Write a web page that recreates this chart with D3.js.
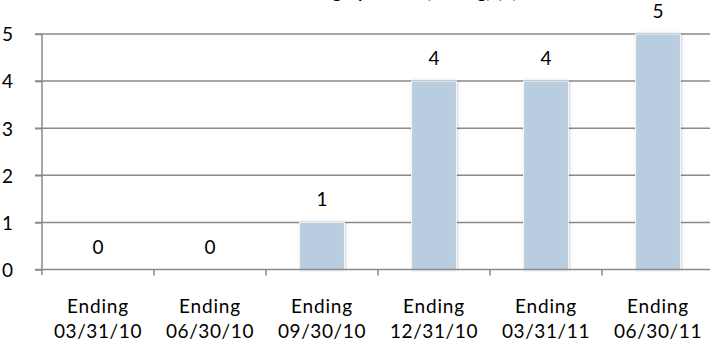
<!DOCTYPE html>
<html><head><meta charset="utf-8">
<script src="https://cdn.jsdelivr.net/npm/d3@7"></script>
<style>html,body{margin:0;padding:0;background:#fff;}svg{display:block;font-family:Lato,"Open Sans",sans-serif;}</style>
</head><body>
<script>
const categories = ["Ending 03/31/10","Ending 06/30/10","Ending 09/30/10","Ending 12/31/10","Ending 03/31/11","Ending 06/30/11"];
const values = [0,0,1,4,4,5];
const yTicks = [0,1,2,3,4,5];
const title = "Trailing Quarters (Rolling) (#)";

const W=710,H=348;
const svg=d3.select("body").append("svg").attr("width",W).attr("height",H);
const defs=svg.append("defs");
const f=defs.append("filter").attr("id","sh").attr("x","-20%").attr("y","-10%").attr("width","140%").attr("height","120%");
f.append("feDropShadow").attr("dx",1).attr("dy",0).attr("stdDeviation",1.5).attr("flood-color","#000").attr("flood-opacity",0.18);

const x=d3.scaleBand().domain(categories).range([42,714]).padding(0);
const y=d3.scaleLinear().domain([0,5]).range([269.5,34]);
const grid="#8a8a8a";

// title (mostly cropped, as in the reference)
svg.append("text").attr("x",400).attr("y",-2.5).attr("text-anchor","middle").attr("font-size",19).attr("fill","#000").text(title);

// gridlines
svg.append("g").selectAll("line").data(yTicks.filter(d=>d>0)).join("line")
  .attr("x1",35).attr("x2",W).attr("y1",d=>y(d)).attr("y2",d=>y(d))
  .attr("stroke",grid).attr("stroke-width",1.5);

// y axis
const ya=svg.append("g").attr("transform","translate(42,0)")
  .call(d3.axisLeft(y).tickValues(yTicks).tickSize(7).tickPadding(18).tickFormat(d3.format("d")));
ya.select(".domain").remove();
ya.selectAll(".tick line").attr("stroke",grid).attr("stroke-width",1.5);
ya.selectAll(".tick text").attr("font-size",19).attr("font-family","Lato").attr("fill","#000").attr("text-anchor","start").attr("x",-40).attr("dy","0.36em");
svg.append("line").attr("x1",42).attr("x2",42).attr("y1",34).attr("y2",275).attr("stroke",grid).attr("stroke-width",1.5);

// bars
const bw=x.bandwidth()*0.4;
svg.append("g").selectAll("rect").data(values.map((v,i)=>({c:categories[i],v}))).join("rect")
  .attr("x",d=>x(d.c)+x.bandwidth()/2-bw/2).attr("width",bw)
  .attr("y",d=>y(d.v)).attr("height",d=>y(0)-y(d.v))
  .attr("fill","#b9cde0").attr("stroke","#f4f7fa").attr("stroke-width",1).attr("filter","url(#sh)");

// x axis
svg.append("line").attr("x1",35).attr("x2",W).attr("y1",y(0)).attr("y2",y(0)).attr("stroke",grid).attr("stroke-width",1.5);
const bounds=d3.range(1,categories.length).map(i=>x(categories[i]));
svg.append("g").selectAll("line").data(bounds).join("line")
  .attr("x1",d=>d).attr("x2",d=>d).attr("y1",y(0)).attr("y2",y(0)+6).attr("stroke",grid).attr("stroke-width",1.5);

// value labels
svg.append("g").selectAll("text").data(values.map((v,i)=>({c:categories[i],v}))).join("text")
  .attr("x",d=>x(d.c)+x.bandwidth()/2).attr("y",d=>y(d.v)-16)
  .attr("text-anchor","middle").attr("font-size",19).attr("fill","#000").text(d=>d.v);

// category labels
const cl=svg.append("g").selectAll("text").data(categories).join("text")
  .attr("x",d=>x(d)+x.bandwidth()/2).attr("y",313).attr("text-anchor","middle").attr("font-size",19).attr("fill","#000");
cl.each(function(d){
  const parts=d.split(" ");
  const t=d3.select(this);
  t.append("tspan").attr("x",t.attr("x")).attr("dy",0).attr("letter-spacing",0.8).text(parts[0]);
  t.append("tspan").attr("x",t.attr("x")).attr("dy",25).attr("letter-spacing",0.6).text(parts[1]);
});
</script>
</body></html>
